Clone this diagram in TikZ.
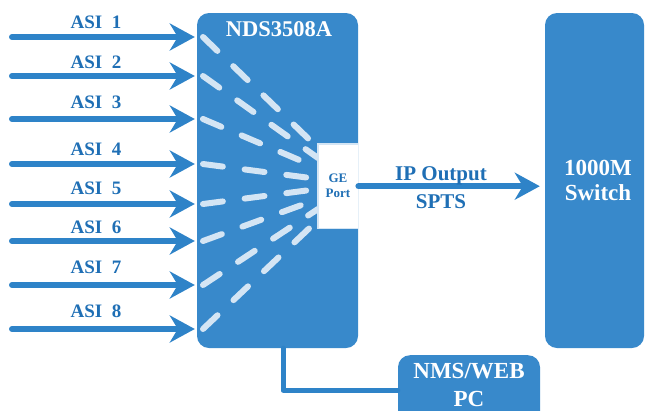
\documentclass[tikz,border=0pt]{standalone}
\usepackage{fontspec}
\setmainfont{Liberation Serif}
\usetikzlibrary{arrows.meta}
\definecolor{boxblue}{HTML}{3889CB}
\definecolor{arrowblue}{HTML}{2E83C8}
\definecolor{txtblue}{HTML}{1F6FB5}
\definecolor{dashblue}{HTML}{D4E5F4}
\begin{document}
\begin{tikzpicture}[x=1pt,y=-1pt,
  bluebox/.style={fill=boxblue, draw=none, rounded corners=12pt, inner sep=0pt},
  whitetxt/.style={text=white, font=\bfseries\fontsize{23}{25}\selectfont, anchor=base, inner sep=0pt},
  asitxt/.style={text=txtblue, font=\bfseries\fontsize{19}{21}\selectfont, anchor=base, inner sep=0pt},
  getxt/.style={text=txtblue, font=\bfseries\fontsize{13}{15}\selectfont, anchor=base, inner sep=0pt},
  iptxt/.style={text=txtblue, font=\bfseries\fontsize{21}{23}\selectfont, anchor=base, inner sep=0pt},
  asiarrow/.style={draw=arrowblue, line width=6pt, line cap=round,
    -{Stealth[length=25pt,width=27pt,inset=8pt]}},
  dashline/.style={draw=dashblue, line width=6pt, line cap=round, dash pattern=on 20pt off 22pt},
  conn/.style={draw=arrowblue, line width=5pt, line cap=round, line join=round}
]
\useasboundingbox (0,0) rectangle (645,410);

% main device box
\node[bluebox, minimum width=161pt, minimum height=335pt] (nds) at (277.5,180.5) {};
\node[whitetxt, font=\bfseries\fontsize{22.5}{24}\selectfont] (ndst) at (279,36) {NDS3508A};

% fan of dashed lines
\foreach \ys/\ye [count=\i] in {37/148, 76/158, 119/168, 164/179, 204/189, 241/199, 285/209, 329/220}{
  \coordinate (d\i) at (203,\ys);
  \coordinate (e\i) at (318,\ye);
  \draw[dashline] (d\i) -- (e\i);
}

% GE port notch
\node[fill=white, draw=none, inner sep=0pt, minimum width=40pt, minimum height=84pt, anchor=north west] (ge) at (318,144) {};
\draw[dashblue, line width=1.5pt] (ge.north east) -- (ge.north west) -- (ge.south west) -- (ge.south east);
\node[getxt] (get1) at (338,182) {GE};
\node[getxt] (get2) at (338,197) {Port};

% ASI inputs
\foreach \y/\b [count=\i] in {37/28, 76/68, 119/108, 164/155, 204/194, 241/233, 285/273, 329/317}{
  \coordinate (a\i) at (12,\y);
  \draw[asiarrow, shorten >=2pt] (a\i) -- (a\i -| nds.west);
  \node[asitxt] (asil\i) at (96,\b) {ASI\ \ \i};
}

% switch
\node[bluebox, minimum width=99pt, minimum height=335pt] (sw) at (594.5,180.5) {};
\node[whitetxt] (swt1) at (598,175) {1000M};
\node[whitetxt] (swt2) at (598,200) {Switch};

% IP output arrow
\draw[asiarrow, shorten >=5pt] (ge.east) -- (ge.east -| sw.west);
\node[iptxt] (ipt1) at (441,180.5) {IP Output};
\node[iptxt] (ipt2) at (441,208) {SPTS};

% NMS box
\node[bluebox, minimum width=142pt, minimum height=70pt, anchor=north] (nms) at (469,355) {};
\node[whitetxt] (nmst1) at (469,378) {NMS/WEB};
\node[whitetxt] (nmst2) at (469,406) {PC};

% connector to NMS
\draw[conn] ([xshift=5.5pt]nds.south) |- (nms.west);
\end{tikzpicture}
\end{document}
